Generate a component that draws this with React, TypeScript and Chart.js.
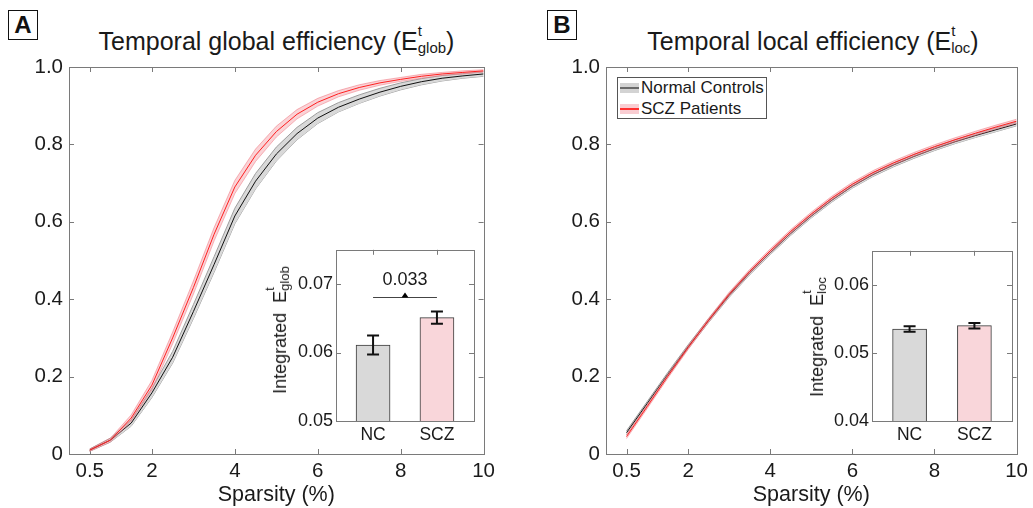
import React, { useEffect, useRef } from 'react';
import { Chart, registerables } from 'chart.js';

Chart.register(...registerables);

const FONT = '"Liberation Sans", Arial, Helvetica, sans-serif';

// ---------- data ----------
const SPARSITY = [0.5, 1, 1.5, 2, 2.5, 3, 3.5, 4, 4.5, 5, 5.5, 6, 6.5, 7, 7.5, 8, 8.5, 9, 9.5, 10];
const X_TICKS = [0.5, 2, 4, 6, 8, 10];
const Y_TICKS = [0, 0.2, 0.4, 0.6, 0.8, 1.0];

const GLOB_NC_MEAN = [0.010, 0.036, 0.080, 0.158, 0.250, 0.368, 0.490, 0.615, 0.705, 0.775, 0.828, 0.868, 0.896, 0.917, 0.935, 0.950, 0.962, 0.971, 0.977, 0.982];
const GLOB_NC_SD = [0.003, 0.005, 0.008, 0.012, 0.015, 0.018, 0.020, 0.020, 0.020, 0.018, 0.016, 0.014, 0.012, 0.011, 0.010, 0.009, 0.008, 0.007, 0.006, 0.006];
const GLOB_SCZ_MEAN = [0.010, 0.036, 0.093, 0.178, 0.300, 0.430, 0.568, 0.690, 0.772, 0.833, 0.878, 0.909, 0.931, 0.947, 0.959, 0.968, 0.976, 0.982, 0.986, 0.990];
const GLOB_SCZ_SD = [0.003, 0.005, 0.008, 0.012, 0.015, 0.017, 0.017, 0.017, 0.016, 0.014, 0.012, 0.010, 0.008, 0.007, 0.006, 0.005, 0.005, 0.004, 0.004, 0.003];

const LOC_NC_MEAN = [0.055, 0.130, 0.205, 0.277, 0.345, 0.410, 0.468, 0.520, 0.570, 0.615, 0.656, 0.692, 0.722, 0.747, 0.769, 0.789, 0.807, 0.823, 0.838, 0.853];
const LOC_NC_SD = [0.005, 0.005, 0.005, 0.005, 0.005, 0.005, 0.005, 0.005, 0.005, 0.005, 0.005, 0.005, 0.005, 0.005, 0.005, 0.005, 0.005, 0.005, 0.005, 0.005];
const LOC_SCZ_MEAN = [0.045, 0.122, 0.200, 0.275, 0.346, 0.413, 0.472, 0.525, 0.575, 0.620, 0.661, 0.697, 0.727, 0.752, 0.774, 0.794, 0.812, 0.829, 0.845, 0.860];
const LOC_SCZ_SD = [0.005, 0.005, 0.005, 0.005, 0.005, 0.005, 0.005, 0.005, 0.005, 0.005, 0.005, 0.005, 0.005, 0.005, 0.005, 0.005, 0.005, 0.005, 0.005, 0.005];

const GROUPS = ['NC', 'SCZ'];
const GROUP_POS = [1, 2];

const GLOB_BAR_MEAN = [0.0611, 0.0651];
const GLOB_BAR_ERR = [0.0014, 0.0009];
const GLOB_INSET_TICKS = [0.05, 0.06, 0.07];
const GLOB_INSET_RANGE = [0.05, 0.075];
const GLOB_P_TEXT = '0.033';
const GLOB_SIG_Y = 0.0681;
const GLOB_P_TEXT_Y = 0.0706;

const LOC_BAR_MEAN = [0.0535, 0.0540];
const LOC_BAR_ERR = [0.0004, 0.0004];
const LOC_INSET_TICKS = [0.04, 0.05, 0.06];
const LOC_INSET_RANGE = [0.04, 0.065];

const LEGEND_LABELS = ['Normal Controls', 'SCZ Patients'];

// ---------- colours ----------
const AXIS_COLOR = '#7a7a7a';
const TEXT_COLOR = '#1a1a1a';
const NC_LINE = '#111111';
const NC_EDGE = '#9e9e9e';
const NC_FILL = '#d9d9d9';
const SCZ_LINE = '#ff2020';
const SCZ_EDGE = 'rgba(240,110,120,0.5)';
const SCZ_FILL = 'rgba(244,150,160,0.42)';
const BAR_FILLS = ['#d9d9d9', '#f9d6da'];

// ---------- plugins ----------
const framePlugin = {
  id: 'frame',
  beforeDatasetsDraw(chart: any, _a: any, o: any) {
    const { ctx, chartArea: a, scales } = chart;
    ctx.save();
    if (o.fillBg) {
      ctx.fillStyle = '#ffffff';
      ctx.fillRect(a.left, a.top, a.right - a.left, a.bottom - a.top);
    }
    const len = o.tickLen || 5;
    ctx.strokeStyle = AXIS_COLOR;
    ctx.lineWidth = 1;
    ctx.beginPath();
    scales.x.ticks.forEach((t: any) => {
      const px = Math.round(scales.x.getPixelForValue(t.value)) + 0.5;
      ctx.moveTo(px, a.bottom);
      ctx.lineTo(px, a.bottom - len);
      ctx.moveTo(px, a.top);
      ctx.lineTo(px, a.top + len);
    });
    scales.y.ticks.forEach((t: any) => {
      const py = Math.round(scales.y.getPixelForValue(t.value)) + 0.5;
      ctx.moveTo(a.left, py);
      ctx.lineTo(a.left + len, py);
      ctx.moveTo(a.right, py);
      ctx.lineTo(a.right - len, py);
    });
    ctx.stroke();
    ctx.restore();
  },
  afterDatasetsDraw(chart: any) {
    const { ctx, chartArea: a } = chart;
    ctx.save();
    ctx.strokeStyle = AXIS_COLOR;
    ctx.lineWidth = 1;
    ctx.strokeRect(Math.round(a.left) + 0.5, Math.round(a.top) + 0.5, Math.round(a.right - a.left), Math.round(a.bottom - a.top));
    ctx.restore();
  },
};

const insetPlugin = {
  id: 'insetDecor',
  afterDatasetsDraw(chart: any, _a: any, o: any) {
    const { ctx, scales } = chart;
    const xs = scales.x;
    const ys = scales.y;
    ctx.save();
    ctx.strokeStyle = '#111';
    ctx.lineWidth = 2;
    o.means.forEach((m: number, i: number) => {
      const cx = xs.getPixelForValue(o.pos[i]);
      const yt = ys.getPixelForValue(m + o.errs[i]);
      const yb = ys.getPixelForValue(m - o.errs[i]);
      ctx.beginPath();
      ctx.moveTo(cx, yt);
      ctx.lineTo(cx, yb);
      ctx.moveTo(cx - 6, yt);
      ctx.lineTo(cx + 6, yt);
      ctx.moveTo(cx - 6, yb);
      ctx.lineTo(cx + 6, yb);
      ctx.stroke();
    });
    if (o.sig) {
      const y = Math.round(ys.getPixelForValue(o.sig.y)) + 0.5;
      const x1 = xs.getPixelForValue(o.pos[0]);
      const x2 = xs.getPixelForValue(o.pos[1]);
      const cx = (x1 + x2) / 2;
      ctx.strokeStyle = '#444';
      ctx.lineWidth = 1;
      ctx.beginPath();
      ctx.moveTo(x1, y);
      ctx.lineTo(x2, y);
      ctx.stroke();
      ctx.fillStyle = '#000';
      ctx.beginPath();
      ctx.moveTo(cx - 3.5, y);
      ctx.lineTo(cx + 3.5, y);
      ctx.lineTo(cx, y - 5);
      ctx.closePath();
      ctx.fill();
      ctx.fillStyle = TEXT_COLOR;
      ctx.font = `18px ${FONT}`;
      ctx.textAlign = 'center';
      ctx.textBaseline = 'middle';
      ctx.fillText(o.sig.text, cx, ys.getPixelForValue(o.sig.textY));
    }
    ctx.restore();
  },
};

// ---------- configs ----------
function pts(vals: number[]) {
  return vals.map((v, i) => ({ x: SPARSITY[i], y: v }));
}
function band(mean: number[], sd: number[], sign: number) {
  return mean.map((v, i) => ({ x: SPARSITY[i], y: v + sign * sd[i] }));
}

function mainConfig(ncM: number[], ncS: number[], sczM: number[], sczS: number[], yAxisW: number, padRight: number) {
  const common = { pointRadius: 0, tension: 0, borderWidth: 1 };
  return {
    type: 'line',
    data: {
      datasets: [
        { ...common, data: pts(sczM), borderColor: SCZ_LINE, fill: false },
        { ...common, data: band(sczM, sczS, 1), borderColor: SCZ_EDGE, backgroundColor: SCZ_FILL, fill: '+1' },
        { ...common, data: band(sczM, sczS, -1), borderColor: SCZ_EDGE, fill: false },
        { ...common, data: pts(ncM), borderColor: NC_LINE, fill: false },
        { ...common, data: band(ncM, ncS, 1), borderColor: NC_EDGE, backgroundColor: NC_FILL, fill: '+1' },
        { ...common, data: band(ncM, ncS, -1), borderColor: NC_EDGE, fill: false },
      ],
    },
    options: {
      responsive: false,
      animation: false,
      devicePixelRatio: 1,
      layout: { padding: { top: 67, right: padRight, left: 0, bottom: 0 } },
      plugins: { legend: { display: false }, tooltip: { enabled: false }, frame: { tickLen: 5 } },
      scales: {
        x: {
          type: 'linear',
          min: 0,
          max: 10,
          grid: { display: false, drawTicks: false },
          border: { display: false },
          afterBuildTicks: (s: any) => { s.ticks = X_TICKS.map((v) => ({ value: v })); },
          afterFit: (s: any) => { s.height = 54; },
          ticks: {
            autoSkip: false,
            maxRotation: 0,
            padding: 5,
            color: TEXT_COLOR,
            font: { family: FONT, size: 20.5 },
            callback: (v: number) => String(v),
          },
          title: {
            display: true,
            text: 'Sparsity (%)',
            color: TEXT_COLOR,
            font: { family: FONT, size: 21.5 },
            padding: { top: 0, bottom: 0 },
          },
        },
        y: {
          type: 'linear',
          min: 0,
          max: 1,
          grid: { display: false, drawTicks: false },
          border: { display: false },
          afterBuildTicks: (s: any) => { s.ticks = Y_TICKS.map((v) => ({ value: v })); },
          afterFit: (s: any) => { s.width = yAxisW; },
          ticks: {
            autoSkip: false,
            padding: 6,
            color: TEXT_COLOR,
            font: { family: FONT, size: 20.5 },
            callback: (v: number) => (v === 0 ? '0' : v.toFixed(1)),
          },
        },
      },
    },
    plugins: [framePlugin],
  };
}

function insetConfig(means: number[], errs: number[], range: number[], yTicks: number[], sig: any) {
  return {
    type: 'bar',
    data: {
      datasets: [
        {
          data: means.map((m, i) => ({ x: GROUP_POS[i], y: m })),
          backgroundColor: BAR_FILLS,
          borderColor: '#3a3a3a',
          borderWidth: 1,
          borderSkipped: false,
          barThickness: 34,
        },
      ],
    },
    options: {
      responsive: false,
      animation: false,
      devicePixelRatio: 1,
      layout: { padding: { top: 10, right: 6, left: 0, bottom: 0 } },
      plugins: {
        legend: { display: false },
        tooltip: { enabled: false },
        frame: { fillBg: true, tickLen: 5 },
        insetDecor: { means, errs, pos: GROUP_POS, sig },
      },
      scales: {
        x: {
          type: 'linear',
          min: 0.42,
          max: 2.58,
          offset: false,
          grid: { display: false, drawTicks: false },
          border: { display: false },
          afterBuildTicks: (s: any) => { s.ticks = GROUP_POS.map((v) => ({ value: v })); },
          afterFit: (s: any) => { s.height = 26; },
          ticks: {
            autoSkip: false,
            maxRotation: 0,
            padding: 4,
            color: TEXT_COLOR,
            font: { family: FONT, size: 17.5 },
            callback: (v: number) => GROUPS[GROUP_POS.indexOf(v)] ?? '',
          },
        },
        y: {
          type: 'linear',
          min: range[0],
          max: range[1],
          grid: { display: false, drawTicks: false },
          border: { display: false },
          afterBuildTicks: (s: any) => { s.ticks = yTicks.map((v) => ({ value: v })); },
          afterFit: (s: any) => { s.width = 46; },
          ticks: {
            autoSkip: false,
            padding: 3,
            color: TEXT_COLOR,
            font: { family: FONT, size: 18 },
            callback: (v: number) => v.toFixed(2),
          },
        },
      },
    },
    plugins: [framePlugin, insetPlugin],
  };
}

// ---------- components ----------
function ChartBox({ left, top, width, height, z, make }: any) {
  const ref = useRef<HTMLCanvasElement>(null);
  useEffect(() => {
    const chart = new Chart(ref.current as HTMLCanvasElement, make() as any);
    return () => chart.destroy();
  }, []);
  return (
    <canvas
      ref={ref}
      width={width}
      height={height}
      style={{ position: 'absolute', left, top, width, height, zIndex: z }}
    />
  );
}

function SupSub({ sup, sub, size, supTop }: any) {
  return (
    <span style={{ position: 'relative', fontSize: size, verticalAlign: '-3px', lineHeight: 1 }}>
      {sub}
      <span style={{ position: 'absolute', left: 0, top: supTop, lineHeight: 1 }}>{sup}</span>
    </span>
  );
}

function PanelLabel({ left, text }: any) {
  return (
    <div
      style={{
        position: 'absolute',
        left,
        top: 10,
        width: 28,
        height: 28,
        border: '1.5px solid #111',
        fontWeight: 'bold',
        fontSize: 24,
        lineHeight: '28px',
        textAlign: 'center',
        color: '#111',
        background: '#fff',
      }}
    >
      {text}
    </div>
  );
}

function Title({ left, width, main, sub }: any) {
  return (
    <div
      style={{
        position: 'absolute',
        left,
        width,
        top: 29,
        textAlign: 'center',
        fontSize: 25,
        lineHeight: '25px',
        color: TEXT_COLOR,
        whiteSpace: 'nowrap',
      }}
    >
      {main}(E<SupSub sup="t" sub={sub} size={15} supTop={-16} />)
    </div>
  );
}

function InsetYLabel({ x, y, sub }: any) {
  return (
    <div
      style={{
        position: 'absolute',
        left: x,
        top: y,
        transform: 'translate(-50%, -50%) rotate(-90deg)',
        fontSize: 18,
        lineHeight: '18px',
        color: TEXT_COLOR,
        whiteSpace: 'nowrap',
        zIndex: 5,
      }}
    >
      Integrated&nbsp;&nbsp;E<SupSub sup="t" sub={sub} size={13} supTop={-14} />
    </div>
  );
}

function Legend() {
  const rows = [
    { label: LEGEND_LABELS[0], fill: '#d3d3d3', line: '#6a6a6a' },
    { label: LEGEND_LABELS[1], fill: '#f9cdd2', line: '#ff3030' },
  ];
  return (
    <div
      style={{
        position: 'absolute',
        left: 617,
        top: 77,
        width: 148,
        height: 40,
        border: '1px solid #555',
        background: '#fff',
        zIndex: 5,
      }}
    >
      {rows.map((r, i) => (
        <div key={i} style={{ position: 'absolute', left: 0, top: i === 0 ? 0 : 21, height: 20, width: 148 }}>
          <div style={{ position: 'absolute', left: 2, top: 5, width: 19, height: 10, background: r.fill }}>
            <div style={{ position: 'absolute', left: 0, top: 4, width: 19, height: 2, background: r.line }} />
          </div>
          <div
            style={{
              position: 'absolute',
              left: 23,
              top: 0,
              fontSize: 17,
              lineHeight: '20px',
              color: TEXT_COLOR,
              whiteSpace: 'nowrap',
            }}
          >
            {r.label}
          </div>
        </div>
      ))}
    </div>
  );
}

export default function App() {
  return (
    <div
      style={{
        position: 'absolute',
        left: 0,
        top: 0,
        width: 1033,
        height: 508,
        background: '#fff',
        overflow: 'hidden',
        fontFamily: FONT,
      }}
    >
      <ChartBox
        left={0}
        top={0}
        width={500}
        height={508}
        z={1}
        make={() => mainConfig(GLOB_NC_MEAN, GLOB_NC_SD, GLOB_SCZ_MEAN, GLOB_SCZ_SD, 69, 16)}
      />
      <ChartBox
        left={520}
        top={0}
        width={513}
        height={508}
        z={1}
        make={() => mainConfig(LOC_NC_MEAN, LOC_NC_SD, LOC_SCZ_MEAN, LOC_SCZ_SD, 86, 13)}
      />
      <ChartBox
        left={290}
        top={236}
        width={190}
        height={211}
        z={3}
        make={() =>
          insetConfig(GLOB_BAR_MEAN, GLOB_BAR_ERR, GLOB_INSET_RANGE, GLOB_INSET_TICKS, {
            y: GLOB_SIG_Y,
            text: GLOB_P_TEXT,
            textY: GLOB_P_TEXT_Y,
          })
        }
      />
      <ChartBox
        left={826}
        top={237}
        width={192}
        height={210}
        z={3}
        make={() => insetConfig(LOC_BAR_MEAN, LOC_BAR_ERR, LOC_INSET_RANGE, LOC_INSET_TICKS, null)}
      />
      <PanelLabel left={8} text="A" />
      <PanelLabel left={547} text="B" />
      <Title left={69} width={415} main="Temporal global efficiency " sub="glob" />
      <Title left={606} width={414} main="Temporal local efficiency " sub="loc" />
      <InsetYLabel x={281} y={330} sub="glob" />
      <InsetYLabel x={818} y={337} sub="loc" />
      <Legend />
    </div>
  );
}
